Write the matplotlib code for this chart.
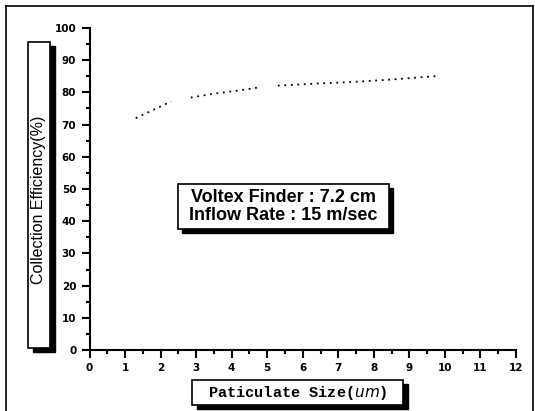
import numpy as np
import matplotlib
matplotlib.use("Agg")
import matplotlib.pyplot as plt
from matplotlib.patches import Rectangle
from matplotlib.lines import Line2D
from matplotlib.ticker import MultipleLocator

# dotted curve, three pieces with gaps between them (NaN breaks the line)
size_um = [1.3, 1.8, 2.3, np.nan, 2.85, 3.5, 4.2, 4.8, np.nan, 5.3, 6.5, 7.5, 8.5, 9.8]
efficiency = [72.0, 74.6, 77.2, np.nan, 78.4, 79.6, 80.6, 81.6, np.nan, 82.1, 82.8, 83.3, 84.0, 85.1]

x_ticks = list(range(0, 13))
y_ticks = list(range(0, 101, 10))
note_lines = ["Voltex Finder : 7.2 cm", "Inflow Rate : 15 m/sec"]
y_title = "Collection Efficiency(%)"
x_title = r"Paticulate Size($\mathit{um}$)"

W, H = 535, 411
fig = plt.figure(figsize=(W / 100, H / 100), dpi=100)
ax = fig.add_axes([89.5 / W, 1 - 350 / H, (516 - 89.5) / W, (350 - 28) / H])

ax.plot(size_um, efficiency, color="black", linestyle=(0, (1, 2.6)), linewidth=1.3)

ax.set_xlim(0, 12)
ax.set_ylim(0, 100)
ax.set_xticks(x_ticks)
ax.set_yticks(y_ticks)
ax.xaxis.set_minor_locator(MultipleLocator(0.5))
ax.yaxis.set_minor_locator(MultipleLocator(5))
ax.tick_params(direction="out", width=1.5, length=6, labelsize=7.5)
ax.tick_params(which="minor", direction="out", width=1.5, length=3)
for lab in ax.get_xticklabels() + ax.get_yticklabels():
    lab.set_fontweight("bold")
ax.spines["top"].set_visible(False)
ax.spines["right"].set_visible(False)
ax.spines["left"].set_linewidth(1.5)
ax.spines["bottom"].set_linewidth(1.5)


def shadow_box(x0, y0, x1, y1, dx=4, dy=4):
    # pixel coords measured from top-left of the figure
    fx = lambda v: v / W
    fy = lambda v: 1 - v / H
    fig.patches.append(Rectangle((fx(x0 + dx), fy(y1 + dy)), (x1 - x0) / W, (y1 - y0) / H,
                                 transform=fig.transFigure, facecolor="black", edgecolor="black", zorder=1))
    fig.patches.append(Rectangle((fx(x0), fy(y1)), (x1 - x0) / W, (y1 - y0) / H,
                                 transform=fig.transFigure, facecolor="white", edgecolor="black",
                                 linewidth=1.2, zorder=2))
    return fx((x0 + x1) / 2), fy((y0 + y1) / 2)


cx, cy = shadow_box(28, 42, 50, 348, dx=5, dy=4)
fig.text(cx, cy - 0.012, y_title, rotation=90, ha="center", va="center", fontsize=11.5, zorder=3,
         family="Liberation Sans")

cx, cy = shadow_box(192, 380, 403, 405, dx=5, dy=4)
fig.text(cx, cy, x_title, ha="center", va="center", fontsize=11, fontweight="bold", zorder=3,
         family="Liberation Mono")

cx, cy = shadow_box(178, 184, 389, 229, dx=4, dy=4)
fig.text(cx, cy, "\n".join(note_lines), ha="center", va="center", fontsize=13, fontweight="bold",
         linespacing=1.05, zorder=3, family="Liberation Sans")

# scanned page frame
for xs, ys in [([6 / W, 6 / W], [0, 1 - 6 / H]), ([6 / W, 533 / W], [1 - 6 / H, 1 - 6 / H]),
               ([533 / W, 533 / W], [0, 1 - 6 / H])]:
    fig.add_artist(Line2D(xs, ys, transform=fig.transFigure, color="black", linewidth=1.2))

fig.savefig("out.png", dpi=100)
